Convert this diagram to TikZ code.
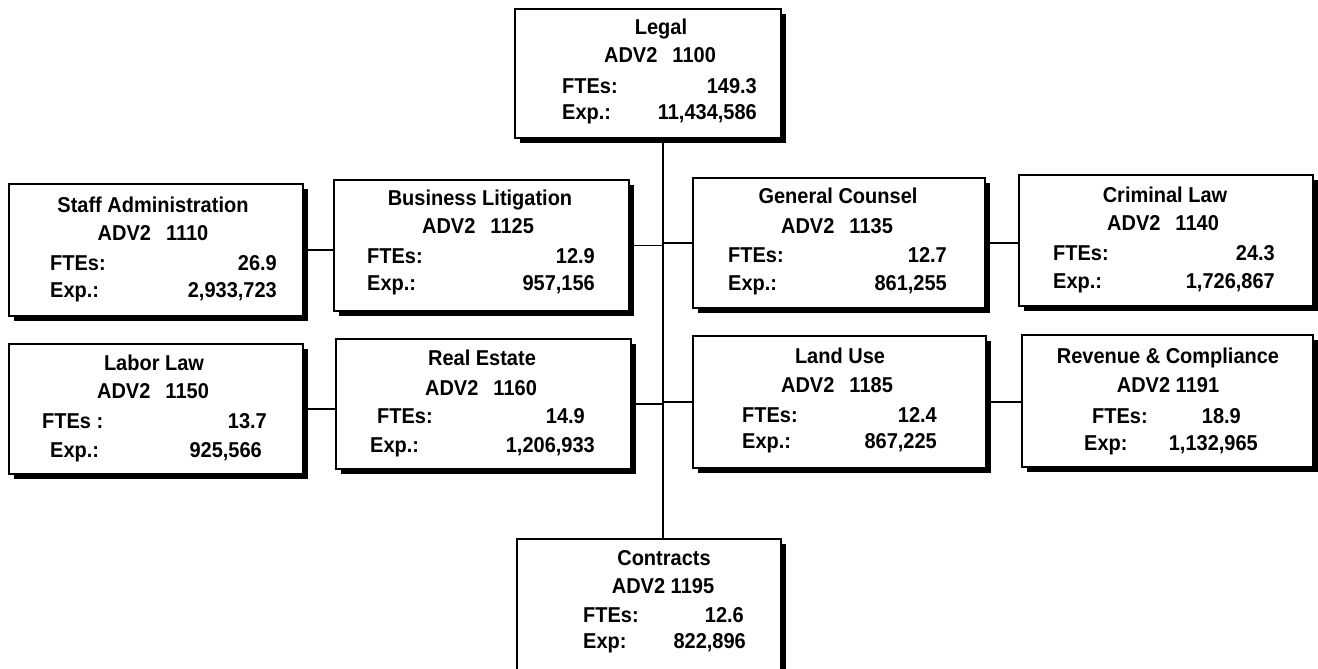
\documentclass[tikz,border=0pt]{standalone}
\usepackage{fontspec}
\setmainfont{Liberation Sans}[FakeStretch=0.93]
\usetikzlibrary{shadows}
\tikzset{
  orgbox/.style={draw, rectangle, line width=2pt, fill=white, inner sep=0pt, anchor=north west,
    drop shadow={shadow xshift=5pt, shadow yshift=-5pt, fill=black, opacity=1}},
  lbl/.style={font=\bfseries\fontsize{21.5}{24}\selectfont, inner sep=0pt},
  ctr/.style={lbl, anchor=base},
  lft/.style={lbl, anchor=base west},
  rgt/.style={lbl, anchor=base east},
  link/.style={line width=1.8pt}
}
\newcommand\gap{\hspace{0.7em}}
\begin{document}
\begin{tikzpicture}[x=1pt,y=-1pt]
\useasboundingbox (0,0) rectangle (1318,669);
\clip (0,0) rectangle (1318,669);
\coordinate (trunk) at (663,300);

% boxes
\node[orgbox, minimum width=266pt, minimum height=129pt] (legal) at (514,8) {};
\node[orgbox, minimum width=294pt, minimum height=132pt] (staff) at (8,183) {};
\node[orgbox, minimum width=295pt, minimum height=131pt] (bl) at (333,179) {};
\node[orgbox, minimum width=292pt, minimum height=130pt] (gc) at (692,177) {};
\node[orgbox, minimum width=294pt, minimum height=131pt] (cl) at (1018,174) {};
\node[orgbox, minimum width=294pt, minimum height=130pt] (labor) at (8,343) {};
\node[orgbox, minimum width=295pt, minimum height=130pt] (re) at (335,338) {};
\node[orgbox, minimum width=293pt, minimum height=132pt] (lu) at (692,335) {};
\node[orgbox, minimum width=291pt, minimum height=132pt] (rc) at (1021,334) {};
\node[orgbox, minimum width=264pt, minimum height=162pt] (contracts) at (516,538) {};

% connectors
\draw[link] (legal.south -| trunk) -- (contracts.north -| trunk);
\draw[link] (staff.east) -- (staff.east -| bl.west);
\draw[link] (bl.east) -- (bl.east -| trunk);
\draw[link] (gc.west -| trunk) -- (gc.west);
\draw[link] (gc.east) -- (gc.east -| cl.west);
\draw[link] (labor.east) -- (labor.east -| re.west);
\draw[link] (re.east) -- (re.east -| trunk);
\draw[link] (lu.west -| trunk) -- (lu.west);
\draw[link] (lu.east) -- (lu.east -| rc.west);

% Legal
\node[ctr] (legal-t) at (661,35) {Legal};
\node[ctr] (legal-c) at (660,63) {ADV2\gap 1100};
\node[lft] (legal-fl) at (562,93) {FTEs:};
\node[rgt] (legal-fv) at (757,93) {149.3};
\node[lft] (legal-el) at (562,120) {Exp.:};
\node[rgt] (legal-ev) at (757,120) {11,434,586};

% Staff Administration
\node[ctr] (staff-t) at (153,212) {Staff Administration};
\node[ctr] (staff-c) at (153,240) {ADV2\gap 1110};
\node[lft] (staff-fl) at (50,270) {FTEs:};
\node[rgt] (staff-fv) at (277,270) {26.9};
\node[lft] (staff-el) at (50,297) {Exp.:};
\node[rgt] (staff-ev) at (277,297) {2,933,723};

% Business Litigation
\node[ctr] (bl-t) at (480,205) {Business Litigation};
\node[ctr] (bl-c) at (478,233) {ADV2\gap 1125};
\node[lft] (bl-fl) at (367,263) {FTEs:};
\node[rgt] (bl-fv) at (595,263) {12.9};
\node[lft] (bl-el) at (367,290) {Exp.:};
\node[rgt] (bl-ev) at (595,290) {957,156};

% General Counsel
\node[ctr] (gc-t) at (838,203) {General Counsel};
\node[ctr] (gc-c) at (837,233) {ADV2\gap 1135};
\node[lft] (gc-fl) at (728,262) {FTEs:};
\node[rgt] (gc-fv) at (947,262) {12.7};
\node[lft] (gc-el) at (728,290) {Exp.:};
\node[rgt] (gc-ev) at (947,290) {861,255};

% Criminal Law
\node[ctr] (cl-t) at (1165,202) {Criminal Law};
\node[ctr] (cl-c) at (1163,230) {ADV2\gap 1140};
\node[lft] (cl-fl) at (1053,260) {FTEs:};
\node[rgt] (cl-fv) at (1275,260) {24.3};
\node[lft] (cl-el) at (1053,288) {Exp.:};
\node[rgt] (cl-ev) at (1275,288) {1,726,867};

% Labor Law
\node[ctr] (labor-t) at (154,370) {Labor Law};
\node[ctr] (labor-c) at (153,398) {ADV2\gap 1150};
\node[lft] (labor-fl) at (42,428) {FTEs :};
\node[rgt] (labor-fv) at (267,428) {13.7};
\node[lft] (labor-el) at (50,457) {Exp.:};
\node[rgt] (labor-ev) at (262,457) {925,566};

% Real Estate
\node[ctr] (re-t) at (482,365) {Real Estate};
\node[ctr] (re-c) at (481,395) {ADV2\gap 1160};
\node[lft] (re-fl) at (377,423) {FTEs:};
\node[rgt] (re-fv) at (585,423) {14.9};
\node[lft] (re-el) at (370,452) {Exp.:};
\node[rgt] (re-ev) at (595,452) {1,206,933};

% Land Use
\node[ctr] (lu-t) at (840,363) {Land Use};
\node[ctr] (lu-c) at (837,392) {ADV2\gap 1185};
\node[lft] (lu-fl) at (742,422) {FTEs:};
\node[rgt] (lu-fv) at (937,422) {12.4};
\node[lft] (lu-el) at (742,448) {Exp.:};
\node[rgt] (lu-ev) at (937,448) {867,225};

% Revenue & Compliance
\node[ctr] (rc-t) at (1168,363) {Revenue \& Compliance};
\node[ctr] (rc-c) at (1168,392) {ADV2 1191};
\node[lft] (rc-fl) at (1092,423) {FTEs:};
\node[rgt] (rc-fv) at (1241,423) {18.9};
\node[lft] (rc-el) at (1084,450) {Exp:};
\node[rgt] (rc-ev) at (1258,450) {1,132,965};

% Contracts
\node[ctr] (ct-t) at (664,565) {Contracts};
\node[ctr] (ct-c) at (663,593) {ADV2 1195};
\node[lft] (ct-fl) at (583,622) {FTEs:};
\node[rgt] (ct-fv) at (744,622) {12.6};
\node[lft] (ct-el) at (583,648) {Exp:};
\node[rgt] (ct-ev) at (746,648) {822,896};
\end{tikzpicture}
\end{document}
